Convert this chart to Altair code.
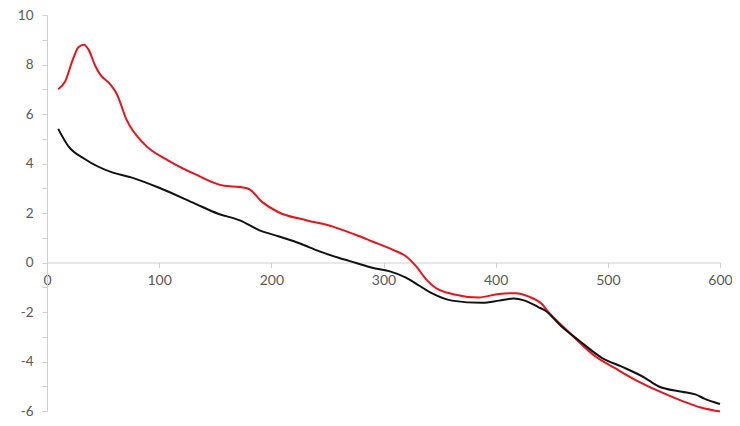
import altair as alt
import pandas as pd

red_x = [10, 16, 23, 28, 33, 37, 43, 47, 56, 62, 71, 87, 109, 132, 158, 172, 180, 192, 206, 231,
         255, 275, 290, 308, 320, 329, 338, 346, 361, 385, 403, 418, 429, 441, 447, 459, 471, 489,
         506, 524, 545, 566, 583, 600]
red_y = [7.0, 7.3, 8.2, 8.7, 8.8, 8.6, 7.95, 7.62, 7.22, 6.83, 5.76, 4.77, 4.1, 3.57, 3.1, 3.05, 2.97,
         2.44, 2.04, 1.71, 1.45, 1.12, 0.85, 0.52, 0.25, -0.15, -0.68, -1.01, -1.27, -1.41, -1.27,
         -1.24, -1.37, -1.67, -2.0, -2.54, -3.07, -3.8, -4.26, -4.73, -5.19, -5.59, -5.86, -6.02]

black_x = [10, 19, 34, 58, 75, 102, 132, 152, 172, 189, 207, 225, 243, 260, 275, 290, 305, 320, 332,
           343, 361, 388, 403, 416, 426, 438, 444, 459, 474, 495, 512, 533, 545, 566, 578, 586, 600]
black_y = [5.4, 4.7, 4.17, 3.64, 3.44, 2.98, 2.38, 1.98, 1.7, 1.31, 1.05, 0.78, 0.45, 0.19, -0.01,
           -0.21, -0.35, -0.61, -0.94, -1.24, -1.54, -1.63, -1.54, -1.45, -1.54, -1.8, -1.94, -2.6,
           -3.14, -3.86, -4.2, -4.66, -5.0, -5.22, -5.33, -5.5, -5.72]

x_ticks = [0, 100, 200, 300, 400, 500, 600]
y_ticks = list(range(-6, 11))

red_df = pd.DataFrame({"x": red_x, "y": red_y})
black_df = pd.DataFrame({"x": black_x, "y": black_y})

FONT = "Lato"
GRAY = "#595959"
AXIS = "#d0d0d0"

W = 673
H = 396
zero_offset = -(H - H * 10 / 16)

x_enc = alt.X(
    "x:Q",
    scale=alt.Scale(domain=[0, 600], nice=False, zero=False),
    axis=alt.Axis(
        values=x_ticks, format="d", offset=zero_offset, grid=False, title=None,
        domainColor=AXIS, tickColor=AXIS, tickSize=5, labelPadding=6,
        labelFont=FONT, labelFontSize=14, labelColor=GRAY,
        labelFlush=False, labelOverlap=False,
    ),
)
y_enc = alt.Y(
    "y:Q",
    scale=alt.Scale(domain=[-6, 10], nice=False, zero=False),
    axis=alt.Axis(
        values=y_ticks, grid=False, title=None,
        labelExpr="datum.value % 2 == 0 ? '' + datum.value : ''",
        domainColor=AXIS, tickColor=AXIS, tickSize=5, labelPadding=9,
        labelFont=FONT, labelFontSize=13.5, labelColor=GRAY,
        labelFlush=False, labelOverlap=False,
    ),
)

red = alt.Chart(red_df).mark_line(color="#e8141c", strokeWidth=2, interpolate="monotone").encode(x=x_enc, y=y_enc)
black = alt.Chart(black_df).mark_line(color="#111111", strokeWidth=2, interpolate="monotone").encode(x=x_enc, y=y_enc)

chart = (
    alt.layer(red, black)
    .properties(
        width=W, height=H,
        autosize=alt.AutoSizeParams(type="none"),
        padding={"left": 39, "top": 7, "right": 12, "bottom": 7},
    )
    .configure_view(stroke=None)
)

chart.save("out.html", embed_options={"renderer": "svg", "actions": False})
